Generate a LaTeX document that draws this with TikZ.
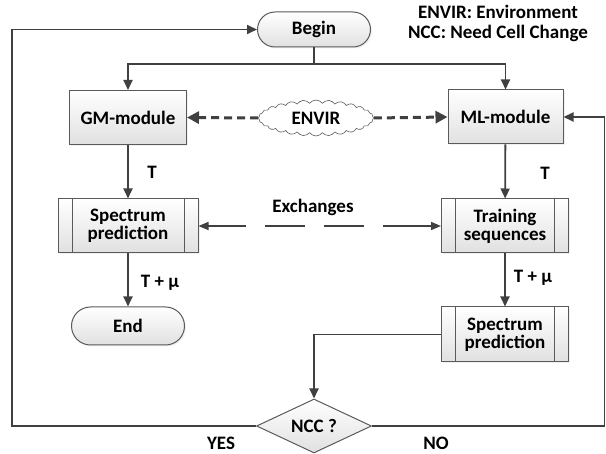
\documentclass[tikz,border=0pt]{standalone}
\usepackage{fontspec}
\setmainfont{Carlito}
\usepackage{tikz}
\usetikzlibrary{arrows.meta}
\usetikzlibrary{shapes}
\usetikzlibrary{shadows}
\usetikzlibrary{calc}

\definecolor{lineGray}{HTML}{404040}
\definecolor{boxGray}{HTML}{5A5A5A}

\tikzset{
	box/.style={rectangle,draw=boxGray,line width=1pt,top color=white,bottom color=black!12,
		inner sep=2pt,align=center,drop shadow={shadow xshift=1.5pt,shadow yshift=-1.5pt,opacity=0.12}},
	proc/.style={box,path picture={
		\draw[boxGray,line width=1pt] ([xshift=14pt]path picture bounding box.north west) -- ([xshift=14pt]path picture bounding box.south west);
		\draw[boxGray,line width=1pt] ([xshift=-14pt]path picture bounding box.north east) -- ([xshift=-14pt]path picture bounding box.south east);
	}},
	term/.style={box,rounded rectangle},
	flow/.style={draw=lineGray,line width=1.8pt,-{Triangle[length=10pt,width=9pt]}},
	envarrow/.style={draw=lineGray,line width=3pt,dash pattern=on 8pt off 5pt,-{Triangle[length=12pt,width=12pt]}},
	xchg/.style={draw=lineGray,line width=1.5pt,{Triangle[length=10pt,width=8pt]}-{Triangle[length=10pt,width=8pt]},
		dash pattern=on 38pt off 19pt on 40pt off 19pt on 40pt off 19pt on 100pt},
	lbl/.style={inner sep=0pt}
}

\begin{document}
\begin{tikzpicture}[x=1pt,y=-1pt,font=\fontsize{19}{18}\selectfont\bfseries]
			\useasboundingbox (0,0) rectangle (606,454);
			\begin{scope}[every node/.style={minimum height=54pt}]
				\node[term,minimum width=117pt,minimum height=35pt] (begin) at (314,29.5) {Begin};
				\node[box,minimum width=117pt] (gm) at (128,117.5) {GM-module};
				\node[box,minimum width=115pt] (ml) at (505.5,117) {ML-module};
				\node[proc,minimum width=140pt] (spec1) at (128,226) {Spectrum\\prediction};
				\node[proc,minimum width=127pt] (train) at (505,226) {Training\\sequences};
				\node[term,minimum width=117pt,minimum height=38pt] (end) at (128,326) {End};
				\node[proc,minimum width=127pt,minimum height=55pt] (spec2) at (505,334.5) {Spectrum\\prediction};
				\node[diamond,draw=boxGray,line width=1pt,top color=white,bottom color=black!12,
					inner sep=0pt,aspect=2.1,minimum width=115pt,minimum height=54pt] (ncc) at (314,426) {NCC ?};
			\end{scope}
			\node[cloud,draw=boxGray,line width=0.6pt,fill=white,cloud puffs=28,cloud puff arc=110,
				aspect=3.2,minimum width=115pt,minimum height=36pt,inner sep=0pt] (envir) at (316,118) {ENVIR};
			\begin{scope}[every node/.style={lbl}]
				\node[align=center,font=\fontsize{19}{19.5}\selectfont\bfseries] (key) at (498,23.5) {ENVIR: Environment\\NCC: Need Cell Change};
				\node (t1) at (152,172) {T};
				\node (t2) at (545,173) {T};
				\node (tmu1) at (160,283) {T + μ};
				\node (tmu2) at (533,278) {T + μ};
				\node (xlab) at (313,207) {Exchanges};
				\node[anchor=base,text depth=0pt] (yes) at (221,450) {YES};
				\node[anchor=base,text depth=0pt] (no) at (436,450) {NO};
			\end{scope}
			\coordinate (split) at (314,64);
			\coordinate (loopL) at (12,0);
			\coordinate (loopR) at (604.5,0);
			\begin{scope}[every edge/.style={flow}]
				\path (gm) edge (spec1);
				\path (spec1) edge (end);
				\path (ml) edge (train);
				\path (train) edge (spec2);
			\end{scope}
			\draw[draw=lineGray,line width=1.8pt] (begin.south) -- (split);
			\draw[flow] (split) -| (gm.north);
			\draw[flow] (split) -| (ml.north);
			\draw[flow] (spec2.west) -| (ncc.north);
			\draw[flow] (ncc.west) -- (loopL |- ncc.west) |- (begin.west);
			\draw[flow] (ncc.east) -- (loopR |- ncc.east) |- (ml.east);
			\draw[envarrow] (envir.west) -- (gm.east);
			\draw[envarrow] (envir.east) -- (ml.west);
			\draw[xchg] (spec1.east) -- (train.west);
		\end{tikzpicture}
\end{document}
